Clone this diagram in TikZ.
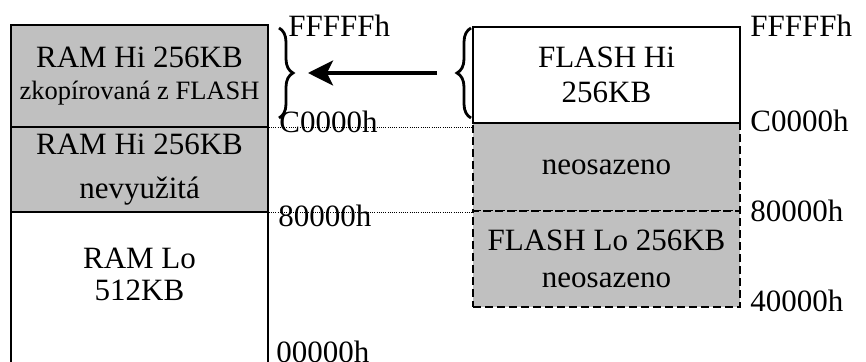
\documentclass[tikz,border=0pt]{standalone}
\usepackage{fontspec}
\setmainfont{Liberation Serif}
\usetikzlibrary{decorations.pathreplacing,arrows.meta}
\definecolor{unused}{RGB}{192,192,192}

\def\ramx{139.5}
\def\flashx{606.5}

\begin{document}
\begin{tikzpicture}[x=0.5pt,y=-0.5pt,font=\fontsize{15.5}{17.5}\selectfont]
\tikzstyle{region}=[draw=black,line width=0.75pt,inner sep=0pt,align=center]
\tikzstyle{ram region}=[region,minimum width=128.5pt]
\tikzstyle{flash region}=[region,minimum width=133.5pt]
\tikzstyle{free region}=[flash region,fill=unused,line width=0.9pt,dash pattern=on 4pt off 2pt]
\tikzstyle{addr}=[anchor=west,inner sep=0pt]
\tikzstyle{guide}=[line width=0.5pt,dash pattern=on 0.5pt off 0.6pt]
\tikzstyle{curly}=[line width=1.4pt,decoration={brace,amplitude=7pt}]

\useasboundingbox (0,0) rectangle (866,362);
\clip (0,0) rectangle (866,362);

% Draw the RAM column
\node[ram region,fill=unused,minimum height=51pt,font=\fontsize{15.5}{16}\selectfont] (ramhi) at (\ramx,76)
  {RAM Hi 256KB\\{\fontsize{13.25}{16}\selectfont zkopírovaná z FLASH}};
\node[ram region,fill=unused,minimum height=42.5pt,font=\fontsize{15.5}{22}\selectfont] (ramfree) at (\ramx,169.5)
  {RAM Hi 256KB\\nevyužitá};
\node[ram region,minimum height=84pt] (ramlo) at (\ramx,296) {};
\node[align=center,font=\fontsize{15.5}{16}\selectfont] (ramlotext) at (\ramx,274) {RAM Lo\\512KB};

% Draw the FLASH column
\node[free region,minimum height=44pt] (flashfree) at (\flashx,167) {neosazeno};
\node[free region,minimum height=48pt,font=\fontsize{15.5}{18.5}\selectfont] (flashlo) at (\flashx,259)
  {FLASH Lo 256KB\\neosazeno};
\node[flash region,fill=white,minimum height=48pt] (flashhi) at (\flashx,75) {FLASH Hi\\256KB};

% Dotted guides between the columns
\draw[guide] (ramhi.south east) -- (ramhi.south east -| flashhi.west);
\draw[guide] (ramfree.south east) -- (ramfree.south east -| flashlo.west);

% Addresses of the RAM column
\node[addr] (ramtop) at (288,26) {FFFFFh};
\node[addr] (ramc) at (279,122) {C0000h};
\node[addr] (ram8) at (278,216) {80000h};
\node[addr] (ram0) at (276,352) {00000h};

% Addresses of the FLASH column
\node[addr] (flashtop) at (750,26) {FFFFFh};
\node[addr] (flashc) at (750,121) {C0000h};
\node[addr] (flash8) at (750,211) {80000h};
\node[addr] (flash4) at (750,301) {40000h};

% Braces and the copy arrow
\coordinate (rambrace top) at (279,28);
\coordinate (rambrace bottom) at (279,118);
\coordinate (flashbrace top) at (471,28);
\coordinate (flashbrace bottom) at (471,118);
\draw[curly,decorate] (rambrace top) -- (rambrace bottom);
\draw[curly,decorate] (flashbrace bottom) -- (flashbrace top);
\coordinate (rambrace) at (293,73);
\coordinate (flashbrace) at (457,73);
\draw[line width=1.6pt,-{Stealth[length=12.5pt,width=12.5pt,inset=3pt]},shorten <=10pt,shorten >=7.5pt]
  (flashbrace) -- (rambrace);
\end{tikzpicture}
\end{document}
